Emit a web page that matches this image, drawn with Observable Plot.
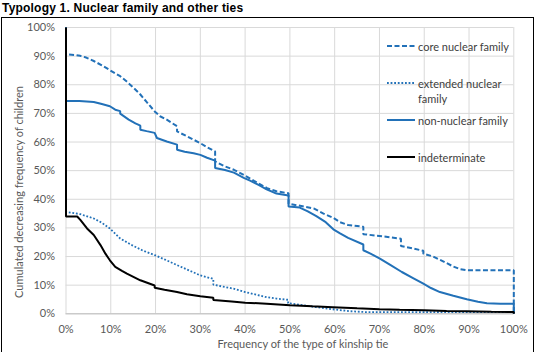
<!DOCTYPE html>
<html>
<head>
<meta charset="utf-8">
<script src="https://cdn.jsdelivr.net/npm/d3@7"></script>
<script src="https://cdn.jsdelivr.net/npm/@observablehq/plot@0.6"></script>
<style>
  body { margin: 0; background: #fff; width: 536px; height: 352px; overflow: hidden; position: relative; font-family: Lato, "Open Sans", sans-serif; }
  #title { position: absolute; left: 2px; top: 1px; font: bold 12px "Liberation Sans", Arial, sans-serif; letter-spacing: 0.2px; color: #000; white-space: nowrap; }
  #frame { position: absolute; left: 1px; top: 17px; width: 533px; height: 400px; border: 1px solid #000; box-sizing: border-box; }
  #chart { position: absolute; left: 2px; top: 18px; }
  .axis-title { position: absolute; font-size: 11px; color: #595959; white-space: nowrap; }
  #xtitle { left: 303px; top: 343px; transform: translate(-50%, -50%); }
  #ytitle { left: 17.5px; top: 191.5px; transform: translate(-50%, -50%) rotate(-90deg); }
  .lg { position: absolute; font-size: 11px; color: #404040; line-height: 15px; white-space: nowrap; }
  .lg svg { position: absolute; left: -31px; top: 4px; }
</style>
</head>
<body>
<div id="title">Typology 1. Nuclear family and other ties</div>
<div id="frame"></div>
<div id="chart"></div>
<div id="xtitle" class="axis-title"></div>
<div id="ytitle" class="axis-title"></div>
<div id="legend"></div>
<script>
// Cumulated decreasing frequency of children (%) by frequency of the kinship tie (%)
const coreNuclear = [
  [0,100],[0,90.6],[2,90.4],[3.2,90.1],[4.5,89.5],[6.2,88.3],[8,86.8],[9.8,85.1],[12.1,83.0],[13.5,81.2],
  [14.7,79.5],[16.6,76.6],[18,74],[19.8,70.7],[21,69],[22.5,67.8],[24.8,65.5],[24.8,63.7],[27,62],[30,59.6],
  [31.5,58.2],[33.3,56.7],[33.3,53.2],[35.5,51.5],[37.5,50.3],[39.7,48.5],[42,46.4],[44.9,43.9],[47,42.8],
  [49.7,42.1],[49.7,38.4],[52,37.8],[55.3,36.8],[57.5,35],[59.7,33.5],[61.2,32],[63,31],[66.4,30.4],[66.4,27.8],
  [70,27.2],[74.8,26.2],[74.8,23.7],[77,23],[79.8,22],[79.8,21],[82,20],[84,18.5],[86.5,16.5],[88,15.6],
  [89.6,15.2],[100,15.2],[100,0]
];
const extendedNuclear = [
  [0,100],[0,35.6],[3.2,34.8],[6.2,33.3],[8,31.8],[9.8,29.8],[12.1,26.3],[14.7,24.0],[17,22.2],[19.8,20.5],
  [22,19],[24.8,17.0],[27,15.5],[30,13.4],[32.9,12.2],[32.9,10.2],[35,9.5],[37.4,8.8],[40,7.6],[44.8,5.8],
  [47,5.3],[49.6,4.9],[49.6,3.7],[52,3.2],[55.9,2.3],[60,1.5],[63.4,0.9],[67,0.6],[100,0.6],[100,0]
];
const nonNuclear = [
  [0,100],[0,74.3],[3,74.3],[6.2,74.0],[8,73.3],[9.8,72.5],[11,71.3],[12.1,70.8],[12.1,69.9],[14,67.8],
  [15.5,66.5],[16.6,65.7],[16.6,64.3],[18,63.8],[19.8,63.2],[20.3,61.4],[22.5,60.2],[24.8,59.1],[24.8,57.3],
  [26.5,56.6],[28.5,56.1],[30,55.5],[31.5,54.5],[33.3,53.5],[33.3,50.9],[35.5,50.2],[37.5,49.3],[39.7,47.5],
  [41.1,46.5],[43,45],[44.8,43.5],[47,42],[49.7,41.3],[49.7,37.5],[52.2,37.1],[54,35.8],[55.9,34.1],[58,32],
  [59.7,29.5],[61.2,28.1],[63,26.5],[66.4,24.2],[66.4,22.2],[68,21],[70.1,19.3],[72.5,17],[75,14.6],
  [77.5,12.5],[79.8,10.5],[81.5,9],[83.5,7.6],[86.5,6.3],[89.5,5.1],[92,4.2],[94,3.7],[97,3.5],[100,3.5],[100,0]
];
const indeterminate = [
  [0,100],[0,34],[2.5,34],[3.2,32.8],[4.7,29.8],[6.2,27.5],[7.7,24],[8.8,21],[9.8,18.7],[11,16.4],[12.5,15],
  [13.6,14],[16.6,11.7],[19.8,9.9],[19.8,9.1],[22,8.4],[24.8,7.6],[27,6.8],[30,6.1],[32.9,5.6],[32.9,4.8],
  [37,4.3],[40,3.9],[44.8,3.5],[50,3],[55,2.6],[59.6,2.3],[65,1.9],[70,1.6],[74.5,1.4],[80,1.2],[85,1],
  [89.4,0.9],[95,0.7],[100,0.6],[100,0]
];

const seriesNames = ["core nuclear family", "extended nuclear family", "non-nuclear family", "indeterminate"];
const seriesData = [coreNuclear, extendedNuclear, nonNuclear, indeterminate];
const xTicks = [0, 10, 20, 30, 40, 50, 60, 70, 80, 90, 100];
const yTicks = [0, 10, 20, 30, 40, 50, 60, 70, 80, 90, 100];
const xTitle = "Frequency of the type of kinship tie";
const yTitle = "Cumulated decreasing frequency of children";

const blue = "#2271b8";
const styles = {
  "core nuclear family":     {stroke: blue, strokeWidth: 2, dash: "5,2.5"},
  "extended nuclear family": {stroke: blue, strokeWidth: 1.8, dash: "1.8,1.8"},
  "non-nuclear family":      {stroke: blue, strokeWidth: 2, dash: null},
  "indeterminate":           {stroke: "#000", strokeWidth: 2, dash: null}
};

const pct = d => d + "%";

const lineMarks = seriesNames.map((name, i) => {
  const s = styles[name];
  const rows = seriesData[i].map(([x, y]) => ({x, y, name}));
  return Plot.line(rows, {
    x: "x", y: "y", stroke: s.stroke, strokeWidth: s.strokeWidth,
    strokeDasharray: s.dash ?? undefined, strokeLinejoin: "miter", strokeLinecap: "butt"
  });
});

const chart = Plot.plot({
  width: 531,
  height: 334,
  marginLeft: 63.5,
  marginRight: 19.7,
  marginTop: 9,
  marginBottom: 38.7,
  style: {fontFamily: "Lato, 'Open Sans', sans-serif", background: "transparent"},
  x: {domain: [0, 100]},
  y: {domain: [0, 100]},
  marks: [
    Plot.gridX(xTicks, {stroke: "#d9d9d9", strokeOpacity: 1, strokeWidth: 1}),
    Plot.gridY(yTicks, {stroke: "#d9d9d9", strokeOpacity: 1, strokeWidth: 1}),
    Plot.ruleY([0], {stroke: "#bfbfbf", strokeWidth: 1}),
    Plot.axisX(xTicks, {tickFormat: pct, tickSize: 0, tickPadding: 11, fontSize: 11, fill: "#595959", label: null}),
    Plot.axisY(yTicks, {tickFormat: pct, tickSize: 0, tickPadding: 11, fontSize: 11, fill: "#595959", label: null}),
    ...lineMarks
  ]
});
document.getElementById("chart").appendChild(chart);

document.getElementById("xtitle").textContent = xTitle;
document.getElementById("ytitle").textContent = yTitle;

// Legend entries inside the plot area, upper right
const legendTops = [39, 76, 113, 150];
const legend = document.getElementById("legend");
seriesNames.forEach((name, i) => {
  const s = styles[name];
  const div = document.createElement("div");
  div.className = "lg";
  div.style.left = "418px";
  div.style.top = legendTops[i] + "px";
  const sample = `<svg width="28" height="6"><line x1="0" x2="28" y1="3" y2="3" stroke="${s.stroke}" stroke-width="${s.strokeWidth}" ${s.dash ? `stroke-dasharray="${s.dash}"` : ""}/></svg>`;
  const label = name === "extended nuclear family" ? "extended nuclear<br>family" : name;
  div.innerHTML = sample + label;
  legend.appendChild(div);
});
</script>
</body>
</html>
